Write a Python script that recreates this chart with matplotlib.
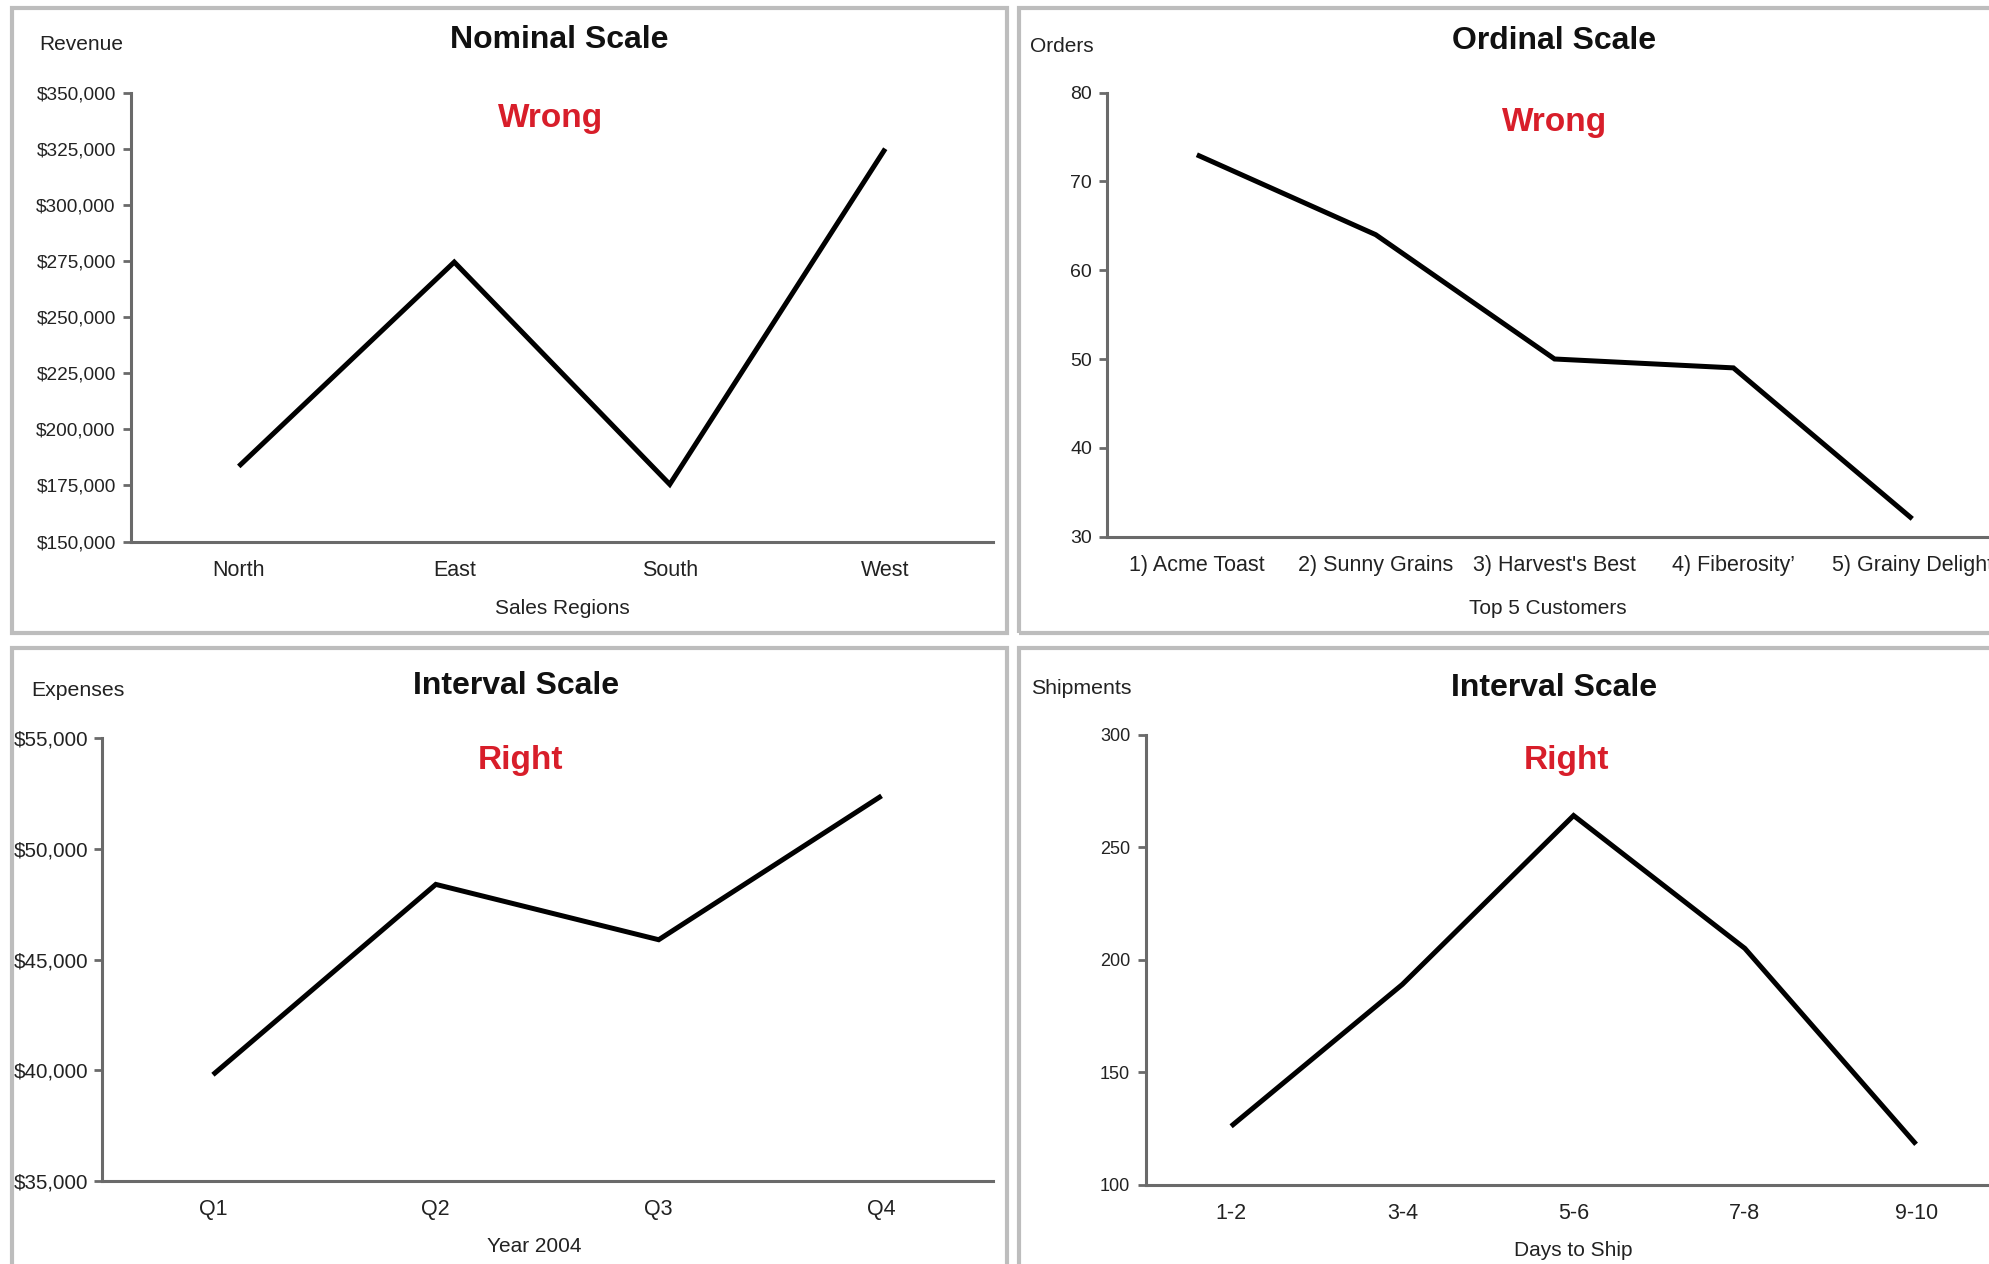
import matplotlib
matplotlib.use("Agg")
import matplotlib.pyplot as plt
from matplotlib.patches import Rectangle

plt.rcParams['font.family'] = ['Liberation Sans', 'DejaVu Sans']

W, H = 1989, 1264

# ---- data ----
regions = ["North", "East", "South", "West"]
revenue = [183500, 274500, 175500, 325000]
revenue_ticks = [150000, 175000, 200000, 225000, 250000, 275000, 300000, 325000, 350000]

customers = ["1) Acme Toast", "2) Sunny Grains", "3) Harvest's Best",
             "4) Fiberosity\u2019", "5) Grainy Delight"]
orders = [73, 64, 50, 49, 32]
order_ticks = [30, 40, 50, 60, 70, 80]

quarters = ["Q1", "Q2", "Q3", "Q4"]
expenses = [39800, 48400, 45900, 52400]
expense_ticks = [35000, 40000, 45000, 50000, 55000]

ship_days = ["1-2", "3-4", "5-6", "7-8", "9-10"]
shipments = [126, 189, 264, 205, 118]
shipment_ticks = [100, 150, 200, 250, 300]

TEXT = "#222222"
AXIS = "#6a6a6a"
FRAME = "#bdbdbd"
RED = "#d81e2a"

fig = plt.figure(figsize=(W / 100, H / 100), dpi=100)
fig.patch.set_facecolor("white")


def box(x0, y0, x1, y1):
    """Pixel box (top-left origin) -> figure-fraction rect."""
    return [x0 / W, 1 - y1 / H, (x1 - x0) / W, (y1 - y0) / H]


def fxy(x, y):
    return x / W, 1 - y / H


# panel frames
for (x0, y0, x1, y1) in [(12, 8, 1007, 633), (1019, 8, 2100, 633),
                         (12, 648, 1007, 1400), (1019, 648, 2100, 1400)]:
    fig.patches.append(Rectangle(fxy(x0, y1), (x1 - x0) / W, (y1 - y0) / H,
                                 transform=fig.transFigure, fill=False,
                                 edgecolor=FRAME, linewidth=3.0, zorder=0))


def panel(rect, cats, vals, ticks, ticklabels, ytick_size, xtick_size, xpad,
          ypad=5):
    ax = fig.add_axes(box(*rect))
    x = list(range(len(cats)))
    ax.plot(x, vals, color="black", linewidth=3.6, solid_joinstyle="miter",
            solid_capstyle="butt", zorder=3)
    ax.set_xlim(-0.5, len(cats) - 0.5)
    ax.set_ylim(ticks[0], ticks[-1])
    ax.set_xticks(x)
    ax.set_xticklabels(cats, fontsize=xtick_size, color=TEXT)
    ax.set_yticks(ticks)
    ax.set_yticklabels(ticklabels, fontsize=ytick_size, color=TEXT)
    ax.tick_params(axis="x", length=0, pad=xpad)
    ax.tick_params(axis="y", length=6, width=2, color=AXIS, pad=ypad)
    for s in ("top", "right"):
        ax.spines[s].set_visible(False)
    for s in ("left", "bottom"):
        ax.spines[s].set_color(AXIS)
        ax.spines[s].set_linewidth(2.2)
    ax.set_facecolor("none")
    ax.patch.set_alpha(0)
    for lab in ax.get_xticklabels():
        lab.set_clip_on(False)
    return ax


TITLE_SIZE = 23
MARK_SIZE = 24
LABEL_SIZE = 15

# Nominal scale
panel((131, 92.6, 993, 541.6), regions, revenue, revenue_ticks,
      [f"${t:,}" for t in revenue_ticks], 13.7, 15.5, 13)
fig.text(*fxy(39, 44), "Revenue", fontsize=LABEL_SIZE, color=TEXT, ha="left", va="center")
fig.text(*fxy(559, 40), "Nominal Scale", fontsize=TITLE_SIZE, fontweight="bold",
         color="#111111", ha="center", va="center")
fig.text(*fxy(551, 118), "Wrong", fontsize=MARK_SIZE, fontweight="bold",
         color=RED, ha="center", va="center")
fig.text(*fxy(562, 608), "Sales Regions", fontsize=LABEL_SIZE, color=TEXT,
         ha="center", va="center")

# Ordinal scale
panel((1107.4, 92.6, 2001.7, 536.6), customers, orders, order_ticks,
      [str(t) for t in order_ticks], 14, 15.5, 13)
fig.text(*fxy(1030, 46), "Orders", fontsize=LABEL_SIZE, color=TEXT, ha="left", va="center")
fig.text(*fxy(1554, 41), "Ordinal Scale", fontsize=TITLE_SIZE, fontweight="bold",
         color="#111111", ha="center", va="center")
fig.text(*fxy(1555, 123), "Wrong", fontsize=MARK_SIZE, fontweight="bold",
         color=RED, ha="center", va="center")
fig.text(*fxy(1548, 609), "Top 5 Customers", fontsize=LABEL_SIZE, color=TEXT,
         ha="center", va="center")

# Interval scale (expenses)
panel((101.5, 738.3, 993, 1181), quarters, expenses, expense_ticks,
      [f"${t:,}" for t in expense_ticks], 14.8, 15.5, 13, ypad=3.5)
fig.text(*fxy(31, 690), "Expenses", fontsize=15.3, color=TEXT, ha="left", va="center")
fig.text(*fxy(516, 686), "Interval Scale", fontsize=TITLE_SIZE, fontweight="bold",
         color="#111111", ha="center", va="center")
fig.text(*fxy(520, 760), "Right", fontsize=MARK_SIZE, fontweight="bold",
         color=RED, ha="center", va="center")
fig.text(*fxy(534, 1247), "Year 2004", fontsize=LABEL_SIZE, color=TEXT,
         ha="center", va="center")

# Interval scale (shipments)
panel((1145.5, 734.5, 2001.7, 1184.8), ship_days, shipments, shipment_ticks,
      [str(t) for t in shipment_ticks], 13, 15.5, 13)
fig.text(*fxy(1031, 689), "Shipments", fontsize=15.3, color=TEXT, ha="left", va="center")
fig.text(*fxy(1554, 688), "Interval Scale", fontsize=TITLE_SIZE, fontweight="bold",
         color="#111111", ha="center", va="center")
fig.text(*fxy(1567, 760), "Right", fontsize=MARK_SIZE, fontweight="bold",
         color=RED, ha="center", va="center")
fig.text(*fxy(1573, 1250), "Days to Ship", fontsize=LABEL_SIZE, color=TEXT,
         ha="center", va="center")

fig.savefig("out.png", dpi=100, facecolor="white")
